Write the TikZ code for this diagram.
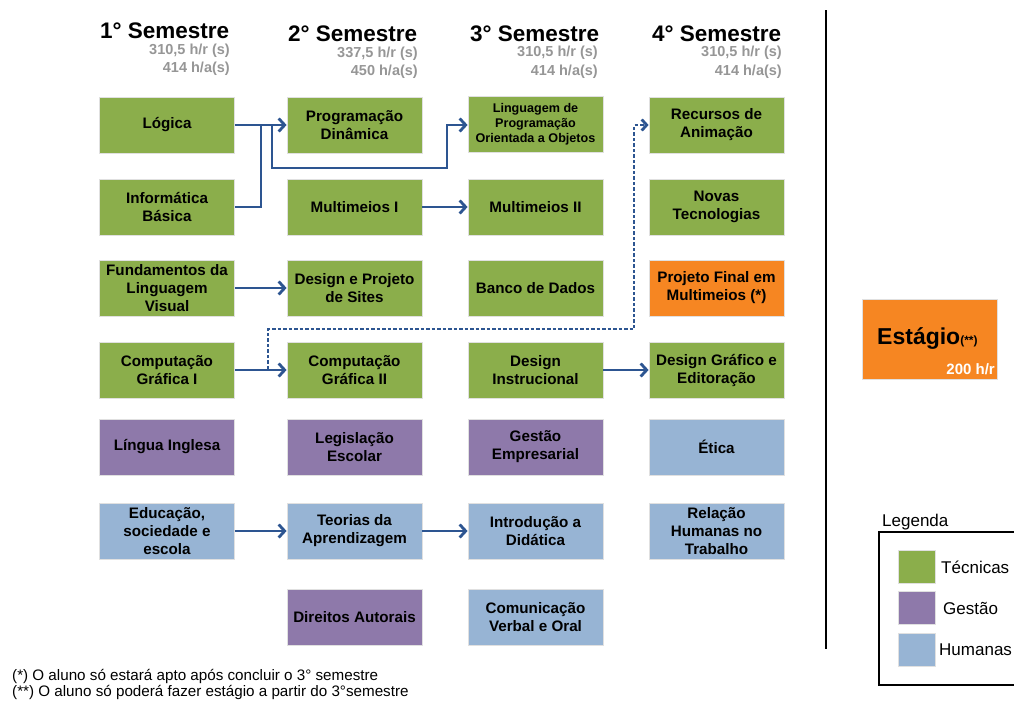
\documentclass[tikz,border=0pt]{standalone}
\usepackage{fontspec}
\setmainfont{Liberation Sans}
\usetikzlibrary{arrows.meta}
\definecolor{tecn}{RGB}{139,174,75}
\definecolor{gest}{RGB}{142,121,170}
\definecolor{hum}{RGB}{151,180,212}
\definecolor{proj}{RGB}{246,134,34}
\definecolor{arr}{RGB}{45,85,145}
\definecolor{subgray}{RGB}{150,150,150}
\begin{document}
\begin{tikzpicture}[x=1pt,y=-1pt,
  box/.style={minimum width=135pt, minimum height=56pt, inner sep=1pt, align=center,
    font=\fontsize{15.2}{18}\selectfont\bfseries, draw=black!12, line width=0.8pt},
  tec/.style={box, fill=tecn},
  ges/.style={box, fill=gest},
  hu/.style={box, fill=hum},
  pf/.style={box, fill=proj},
  con/.style={draw=arr, line width=2.8pt, -{Straight Barb[length=6pt,width=13pt]}},
  conline/.style={draw=arr, line width=2.8pt},
  dashcon/.style={draw=arr, line width=2.8pt, dash pattern=on 3.5pt off 2pt,
    -{Straight Barb[length=5pt,width=11pt]}},
  title/.style={anchor=base west, inner sep=0pt, font=\fontsize{22.5}{27}\selectfont\bfseries},
  sub/.style={anchor=base east, inner sep=0pt, text=subgray, font=\fontsize{14.5}{17}\selectfont\bfseries},
  note/.style={anchor=base west, inner sep=0pt, font=\fontsize{15.2}{18}\selectfont},
  legtxt/.style={anchor=west, inner sep=0pt, font=\fontsize{17}{20}\selectfont},
  swatch/.style={minimum width=37pt, minimum height=33pt, inner sep=0pt, draw=black!12, line width=0.8pt}
]
\useasboundingbox (0,0) rectangle (1014,702);
\clip (0,0) rectangle (1014,702);

% headers
\node[title] (t1) at (100,38) {1° Semestre};
\node[sub] (s1a) at (230,54) {310,5 h/r (s)};
\node[sub] (s1b) at (230,72) {414 h/a(s)};
\node[title] (t2) at (288,41) {2° Semestre};
\node[sub] (s2a) at (418,57) {337,5 h/r (s)};
\node[sub] (s2b) at (418,75) {450 h/a(s)};
\node[title] (t3) at (470,41) {3° Semestre};
\node[sub] (s3a) at (598,56) {310,5 h/r (s)};
\node[sub] (s3b) at (598,75) {414 h/a(s)};
\node[title] (t4) at (652,41) {4° Semestre};
\node[sub] (s4a) at (782,56) {310,5 h/r (s)};
\node[sub] (s4b) at (782,75) {414 h/a(s)};

% column 1
\node[tec] (log) at (167,125) {Lógica};
\node[tec] (inf) at (167,207) {Informática\\Básica};
\node[tec] (flv) at (167,288) {Fundamentos da\\Linguagem\\Visual};
\node[tec] (cg1) at (167,370) {Computação\\Gráfica I};
\node[ges] (ing) at (167,447) {Língua Inglesa};
\node[hu] (edu) at (167,531) {Educação,\\sociedade e\\escola};

% column 2
\node[tec] (pd) at (354.5,125) {Programação\\Dinâmica};
\node[tec] (mm1) at (354.5,207) {Multimeios I};
\node[tec] (dps) at (354.5,288) {Design e Projeto\\de Sites};
\node[tec] (cg2) at (354.5,370) {Computação\\Gráfica II};
\node[ges] (leg) at (354.5,447) {Legislação\\Escolar};
\node[hu] (tap) at (354.5,531) {Teorias da\\Aprendizagem};
\node[ges] (dau) at (354.5,617) {Direitos Autorais};

% column 3
\node[tec, font=\fontsize{12.6}{15}\selectfont\bfseries] (lpoo) at (535.5,124) {Linguagem de\\Programação\\Orientada a Objetos};
\node[tec] (mm2) at (535.5,207) {Multimeios II};
\node[tec] (bd) at (535.5,288) {Banco de Dados};
\node[tec] (di) at (535.5,370) {Design\\Instrucional};
\node[ges] (ge) at (535.5,447) {Gestão\\Empresarial};
\node[hu] (idd) at (535.5,531) {Introdução a\\Didática};
\node[hu] (cvo) at (535.5,617) {Comunicação\\Verbal e Oral};

% column 4
\node[tec] (rec) at (716.5,125) {Recursos de\\Animação};
\node[tec] (nt) at (716.5,207) {Novas\\Tecnologias};
\node[pf] (pfm) at (716.5,288) {Projeto Final em\\Multimeios (*)};
\node[tec] (dge) at (716.5,370) {Design Gráfico e\\Editoração};
\node[hu] (eti) at (716.5,447) {Ética};
\node[hu] (rht) at (716.5,531) {Relação\\Humanas no\\Trabalho};

% connectors
\coordinate (j1) at (261,125);
\coordinate (j2) at (272,125);
\coordinate (d0) at (268,369);
\draw[con] (log.east) -- (pd.west);
\draw[conline] (inf.east) -| (j1);
\draw[con] (j2) -- (272,168) -- (447,168) |- (lpoo.west |- log.east);
\draw[con] (mm1.east) -- (mm2.west);
\draw[con] (flv.east) -- (dps.west);
\draw[con] (cg1.east) -- (cg2.west);
\draw[dashcon] (d0) -- (268,329) -- (634,329) |- (rec.west);
\draw[con] (di.east) -- (dge.west);
\draw[con] (edu.east) -- (tap.west);
\draw[con] (tap.east) -- (idd.west);

% divider
\draw[line width=2pt] (826,10) -- (826,649);

% Estagio
\node[box, fill=proj, minimum width=135pt, minimum height=80pt] (est) at (929.5,339) {};
\node[anchor=base west, inner sep=0pt, font=\bfseries] (estt) at (877,344)
  {\fontsize{23}{27}\selectfont Estágio\fontsize{12}{14}\selectfont(**)};
\node[anchor=base east, inner sep=0pt, text=white, font=\fontsize{15}{18}\selectfont\bfseries] (esth) at (995,374) {200 h/r};

% legend
\node[anchor=base west, inner sep=0pt, font=\fontsize{17}{20}\selectfont] (legt) at (882,526) {Legenda};
\draw[line width=2pt] (879,532) rectangle (1040,685);
\node[swatch, fill=tecn] (sw1) at (916.5,566.5) {};
\node[swatch, fill=gest] (sw2) at (916.5,608) {};
\node[swatch, fill=hum] (sw3) at (916.5,649.5) {};
\node[legtxt] (l1) at (941,567) {Técnicas};
\node[legtxt] (l2) at (943,608) {Gestão};
\node[legtxt] (l3) at (939,650) {Humanas};

% footnotes
\node[note] (n1) at (12,680) {(*) O aluno só estará apto após concluir o 3° semestre};
\node[note] (n2) at (12,696) {(**) O aluno só poderá fazer estágio a partir do 3°semestre};
\end{tikzpicture}
\end{document}
